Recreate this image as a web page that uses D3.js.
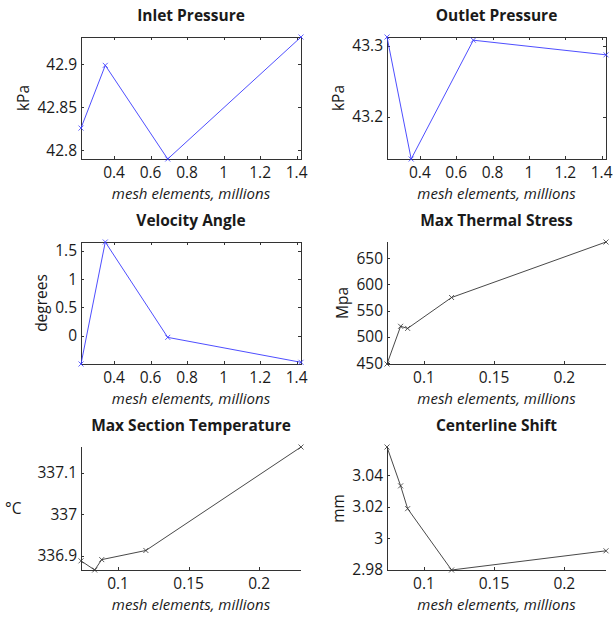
<!DOCTYPE html>
<html>
<head>
<meta charset="utf-8">
<script src="https://cdn.jsdelivr.net/npm/d3@7"></script>
<style>
  body { margin: 0; background: #fff; }
  svg { display: block; }
  text { font-family: "Open Sans", "DejaVu Sans", sans-serif; fill: #1a1a1a; }
</style>
</head>
<body>
<div id="chart"></div>
<script>
// mesh sizes (millions of elements)
var meshCoarse = [0.219, 0.352, 0.694, 1.424];
var meshFine = [0.0737, 0.0834, 0.0884, 0.1197, 0.2297];

// series
var inletPressure = [42.826, 42.899, 42.790, 42.932];
var outletPressure = [43.312, 43.141, 43.3075, 43.287];
var velocityAngle = [-0.5, 1.653, -0.03, -0.47];
var thermalStress = [448, 520, 516, 575, 681];
var sectionTemp = [336.888, 336.866, 336.891, 336.913, 337.162];
var centerShift = [3.0579, 3.0332, 3.0187, 2.9797, 2.9919];

// tick values
var xTicksCoarse = [0.4, 0.6, 0.8, 1, 1.2, 1.4];
var xTicksFine = [0.1, 0.15, 0.2];
var yTicksInlet = [42.8, 42.85, 42.9];
var yTicksOutlet = [43.2, 43.3];
var yTicksVelocity = [0, 0.5, 1, 1.5];
var yTicksStress = [450, 500, 550, 600, 650];
var yTicksTemp = [336.9, 337, 337.1];
var yTicksShift = [2.98, 3, 3.02, 3.04];

var xLabel = "mesh elements, millions";

var W = 613, H = 617;
var svg = d3.select("#chart").append("svg").attr("width", W).attr("height", H);

// column / row boxes
var cols = [[81, 301], [387, 606]];
var rows = [[37, 159], [242, 364], [447, 570]];

var panels = [
  {title: "Inlet Pressure", ylab: "kPa", x: meshCoarse, y: inletPressure, xt: xTicksCoarse, yt: yTicksInlet, fmt: d3.format(".2~f"), col: 0, row: 0, color: "#3a3aff", box: true},
  {title: "Outlet Pressure", ylab: "kPa", x: meshCoarse, y: outletPressure, xt: xTicksCoarse, yt: yTicksOutlet, fmt: d3.format(".1f"), col: 1, row: 0, color: "#3a3aff", box: true},
  {title: "Velocity Angle", ylab: "degrees", x: meshCoarse, y: velocityAngle, xt: xTicksCoarse, yt: yTicksVelocity, fmt: d3.format(".1~f"), col: 0, row: 1, color: "#3a3aff", box: true},
  {title: "Max Thermal Stress", ylab: "Mpa", x: meshFine, y: thermalStress, xt: xTicksFine, yt: yTicksStress, fmt: d3.format("d"), col: 1, row: 1, color: "#333", box: false},
  {title: "Max Section Temperature", ylab: "\u00B0C", flatLabel: true, x: meshFine, y: sectionTemp, xt: xTicksFine, yt: yTicksTemp, fmt: d3.format(".1~f"), col: 0, row: 2, color: "#333", box: false},
  {title: "Centerline Shift", ylab: "mm", x: meshFine, y: centerShift, xt: xTicksFine, yt: yTicksShift, fmt: d3.format(".2~f"), col: 1, row: 2, color: "#333", box: false}
];

var axisColor = "#333";
var tickLen = 3;
var tickFont = "15.5px";

panels.forEach(function(p){
  var x0 = cols[p.col][0], x1 = cols[p.col][1];
  var y0 = rows[p.row][0], y1 = rows[p.row][1];

  var xs = d3.scaleLinear().domain(d3.extent(p.x)).range([x0, x1]);
  var ys = d3.scaleLinear().domain(d3.extent(p.y)).range([y1, y0]);

  var g = svg.append("g");

  // axis lines
  g.append("line").attr("x1", x0).attr("x2", x0).attr("y1", y0).attr("y2", y1 + 0.5)
    .attr("stroke", axisColor).attr("shape-rendering", "crispEdges");
  g.append("line").attr("x1", x0).attr("x2", x1).attr("y1", y1 + 0.5).attr("y2", y1 + 0.5)
    .attr("stroke", axisColor).attr("shape-rendering", "crispEdges");
  if (p.box) {
    g.append("line").attr("x1", x0).attr("x2", x1).attr("y1", y0).attr("y2", y0)
      .attr("stroke", axisColor).attr("shape-rendering", "crispEdges");
    g.append("line").attr("x1", x1).attr("x2", x1).attr("y1", y0).attr("y2", y1 + 0.5)
      .attr("stroke", axisColor).attr("shape-rendering", "crispEdges");
  }

  // x ticks (inward)
  p.xt.forEach(function(t){
    var px = Math.round(xs(t)) + 0.5;
    g.append("line").attr("x1", px).attr("x2", px).attr("y1", y1).attr("y2", y1 - tickLen).attr("stroke", axisColor);
    if (p.box) g.append("line").attr("x1", px).attr("x2", px).attr("y1", y0).attr("y2", y0 + tickLen).attr("stroke", axisColor);
    g.append("text").attr("x", xs(t)).attr("y", y1 + 19).attr("text-anchor", "middle")
      .style("font-size", tickFont).text(d3.format("~g")(t));
  });

  // y ticks (inward)
  var maxW = 0;
  p.yt.forEach(function(t){
    var py = Math.round(ys(t)) + 0.5;
    g.append("line").attr("x1", x0).attr("x2", x0 + tickLen).attr("y1", py).attr("y2", py).attr("stroke", axisColor);
    if (p.box) g.append("line").attr("x1", x1).attr("x2", x1 - tickLen).attr("y1", py).attr("y2", py).attr("stroke", axisColor);
    var tx = g.append("text").attr("x", x0 - 4).attr("y", ys(t)).attr("dy", "0.36em")
      .attr("text-anchor", "end").style("font-size", tickFont).text(p.fmt(t));
    maxW = Math.max(maxW, tx.node().getComputedTextLength());
  });

  // series line + x markers
  var pts = p.x.map(function(v, i){ return [xs(v), ys(p.y[i])]; });
  g.append("path").attr("d", d3.line()(pts)).attr("fill", "none")
    .attr("stroke", p.color).attr("stroke-width", 0.9);
  var m = 2.5;
  pts.forEach(function(q){
    g.append("path")
      .attr("d", "M" + (q[0] - m) + "," + (q[1] - m) + "L" + (q[0] + m) + "," + (q[1] + m) +
                 "M" + (q[0] - m) + "," + (q[1] + m) + "L" + (q[0] + m) + "," + (q[1] - m))
      .attr("stroke", p.color).attr("stroke-width", 0.8);
  });

  // title
  g.append("text").attr("x", (x0 + x1) / 2).attr("y", y0 - 16).attr("text-anchor", "middle")
    .style("font-size", "15.5px").style("font-weight", "bold").text(p.title);

  // x label
  g.append("text").attr("x", (x0 + x1) / 2).attr("y", y1 + 40).attr("text-anchor", "middle")
    .style("font-size", "15px").style("font-style", "italic").text(xLabel);

  // y label
  if (p.flatLabel) {
    g.append("text").attr("x", x0 - maxW - 20).attr("y", (y0 + y1) / 2).attr("dy", "0.36em")
      .attr("text-anchor", "end").style("font-size", tickFont).text(p.ylab);
  } else {
    var lx = x0 - maxW - 12;
    g.append("text").attr("transform", "translate(" + lx + "," + ((y0 + y1) / 2) + ") rotate(-90)")
      .attr("text-anchor", "middle").style("font-size", tickFont).text(p.ylab);
  }
});
</script>
</body>
</html>
